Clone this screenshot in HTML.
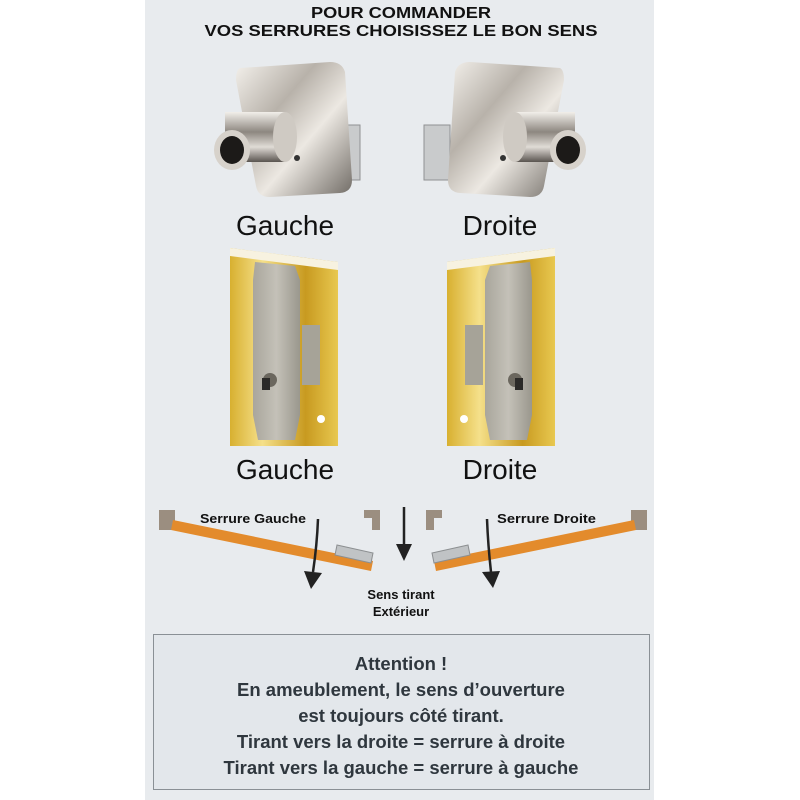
<!DOCTYPE html>
<html><head><meta charset="utf-8"><style>
html,body{margin:0;padding:0;background:#fff;}
svg{display:block;}
text{font-family:"Liberation Sans",Arial,sans-serif;}
</style></head><body>
<svg width="800" height="800" viewBox="0 0 800 800" xmlns="http://www.w3.org/2000/svg">
<defs>
<linearGradient id="chrome" x1="0" y1="0" x2="1" y2="1">
<stop offset="0" stop-color="#f4f1ec"/><stop offset="0.35" stop-color="#b8b2aa"/><stop offset="0.6" stop-color="#ece8e2"/><stop offset="1" stop-color="#6f6a64"/></linearGradient>
<linearGradient id="cyl" x1="0" y1="0" x2="0" y2="1">
<stop offset="0" stop-color="#f2efea"/><stop offset="0.4" stop-color="#8d8780"/><stop offset="0.7" stop-color="#e0dcd6"/><stop offset="1" stop-color="#5a5550"/></linearGradient>
<linearGradient id="brass" x1="0" y1="0" x2="1" y2="0">
<stop offset="0" stop-color="#d8b030"/><stop offset="0.3" stop-color="#f5e08a"/><stop offset="0.7" stop-color="#c89a20"/><stop offset="1" stop-color="#e8c850"/></linearGradient>
<linearGradient id="steel" x1="0" y1="0" x2="1" y2="0">
<stop offset="0" stop-color="#a9a69c"/><stop offset="0.5" stop-color="#c4c1b8"/><stop offset="1" stop-color="#9a978d"/></linearGradient>
</defs>
<rect x="145" y="0" width="509" height="800" fill="#e8ebee"/>
<text x="401" y="18" font-size="16" font-weight="bold" text-anchor="middle" fill="#111" textLength="180" lengthAdjust="spacingAndGlyphs">POUR COMMANDER</text>
<text x="401" y="36" font-size="16" font-weight="bold" text-anchor="middle" fill="#111" textLength="393" lengthAdjust="spacingAndGlyphs">VOS SERRURES CHOISISSEZ LE BON SENS</text>

<!-- chrome lock left -->
<g>
<rect x="334" y="125" width="26" height="55" fill="#c9cbcc" stroke="#8f9193"/>
<path d="M240 68 L330 62 Q342 62 345 72 L352 180 Q352 192 340 193 L270 197 Q258 197 256 186 L236 80 Q236 70 240 68Z" fill="url(#chrome)"/>
<rect x="225" y="112" width="60" height="50" fill="url(#cyl)"/>
<ellipse cx="285" cy="137" rx="12" ry="25" fill="#cfcac3"/>
<ellipse cx="232" cy="150" rx="18" ry="20" fill="#d7d2cb"/>
<ellipse cx="232" cy="150" rx="12" ry="14" fill="#1c1a18"/>
<circle cx="297" cy="158" r="3" fill="#333"/>
</g>
<!-- chrome lock right -->
<g>
<rect x="424" y="125" width="26" height="55" fill="#c9cbcc" stroke="#8f9193"/>
<path d="M560 68 L470 62 Q458 62 455 72 L448 180 Q448 192 460 193 L530 197 Q542 197 544 186 L564 80 Q564 70 560 68Z" fill="url(#chrome)"/>
<rect x="515" y="112" width="60" height="50" fill="url(#cyl)"/>
<ellipse cx="515" cy="137" rx="12" ry="25" fill="#cfcac3"/>
<ellipse cx="568" cy="150" rx="18" ry="20" fill="#d7d2cb"/>
<ellipse cx="568" cy="150" rx="12" ry="14" fill="#1c1a18"/>
<circle cx="503" cy="158" r="3" fill="#333"/>
</g>
<text x="285" y="235" font-size="28" text-anchor="middle" fill="#111">Gauche</text>
<text x="500" y="235" font-size="28" text-anchor="middle" fill="#111">Droite</text>

<!-- brass lock left -->
<g>
<path d="M230 248 L338 262 L338 446 L230 446Z" fill="url(#brass)"/>
<path d="M230 248 L338 262 L338 270 L230 256Z" fill="#f7f2e0"/>
<rect x="302" y="325" width="18" height="60" fill="#a6a398"/>
<path d="M255 262 L295 266 L300 280 L300 415 L295 440 L258 440 L253 415 L253 280Z" fill="url(#steel)"/>
<circle cx="270" cy="380" r="7" fill="#6b675e"/>
<rect x="262" y="378" width="8" height="12" fill="#2b2a28"/>
<circle cx="321" cy="419" r="4" fill="#fff"/>
</g>
<!-- brass lock right -->
<g>
<path d="M555 248 L447 262 L447 446 L555 446Z" fill="url(#brass)"/>
<path d="M555 248 L447 262 L447 270 L555 256Z" fill="#f7f2e0"/>
<rect x="465" y="325" width="18" height="60" fill="#a6a398"/>
<path d="M530 262 L490 266 L485 280 L485 415 L490 440 L527 440 L532 415 L532 280Z" fill="url(#steel)"/>
<circle cx="515" cy="380" r="7" fill="#6b675e"/>
<rect x="515" y="378" width="8" height="12" fill="#2b2a28"/>
<circle cx="464" cy="419" r="4" fill="#fff"/>
</g>
<text x="285" y="479" font-size="28" text-anchor="middle" fill="#111">Gauche</text>
<text x="500" y="479" font-size="28" text-anchor="middle" fill="#111">Droite</text>

<!-- diagram -->
<rect x="159" y="510" width="16" height="20" fill="#9b8e80"/>
<rect x="364" y="510" width="16" height="8" fill="#9b8e80"/><rect x="372" y="510" width="8" height="20" fill="#9b8e80"/>
<rect x="426" y="510" width="16" height="8" fill="#9b8e80"/><rect x="426" y="510" width="8" height="20" fill="#9b8e80"/>
<rect x="631" y="510" width="16" height="20" fill="#9b8e80"/>
<polygon points="173,520 373,561 371,571 171,530" fill="#e38b2c"/>
<polygon points="337,545 373,553 371,563 335,555" fill="#c0c3c5" stroke="#8c8f91" stroke-width="1"/>
<polygon points="634,520 434,561 436,571 636,530" fill="#e38b2c"/>
<polygon points="468,545 432,553 434,563 470,555" fill="#c0c3c5" stroke="#8c8f91" stroke-width="1"/>
<path d="M318 519 Q317 545 313 572" stroke="#222" stroke-width="2.5" fill="none"/>
<polygon points="304,571 322,573 311,589" fill="#222"/>
<path d="M487 519 Q488 545 491 572" stroke="#222" stroke-width="2.5" fill="none"/>
<polygon points="482,572 500,571 493,588" fill="#222"/>
<line x1="404" y1="507" x2="404" y2="545" stroke="#222" stroke-width="2.5"/>
<polygon points="396,544 412,544 404,561" fill="#222"/>
<text x="200" y="523" font-size="13" font-weight="bold" fill="#111" textLength="106" lengthAdjust="spacingAndGlyphs">Serrure Gauche</text>
<text x="497" y="523" font-size="13" font-weight="bold" fill="#111" textLength="99" lengthAdjust="spacingAndGlyphs">Serrure Droite</text>
<text x="401" y="599" font-size="13" font-weight="bold" text-anchor="middle" fill="#111">Sens tirant</text>
<text x="401" y="616" font-size="13" font-weight="bold" text-anchor="middle" fill="#111">Extérieur</text>

<rect x="153.5" y="634.5" width="496" height="155" fill="#e3e7eb" stroke="#8a9095" stroke-width="1"/>
<text x="401" y="670" font-size="18.5" font-weight="bold" text-anchor="middle" fill="#2f373e">Attention !</text>
<text x="401" y="696" font-size="18.5" font-weight="bold" text-anchor="middle" fill="#2f373e">En ameublement, le sens d’ouverture</text>
<text x="401" y="722" font-size="18.5" font-weight="bold" text-anchor="middle" fill="#2f373e">est toujours côté tirant.</text>
<text x="401" y="748" font-size="18.5" font-weight="bold" text-anchor="middle" fill="#2f373e">Tirant vers la droite = serrure à droite</text>
<text x="401" y="774" font-size="18.5" font-weight="bold" text-anchor="middle" fill="#2f373e">Tirant vers la gauche = serrure à gauche</text>
</svg>
</body></html>
